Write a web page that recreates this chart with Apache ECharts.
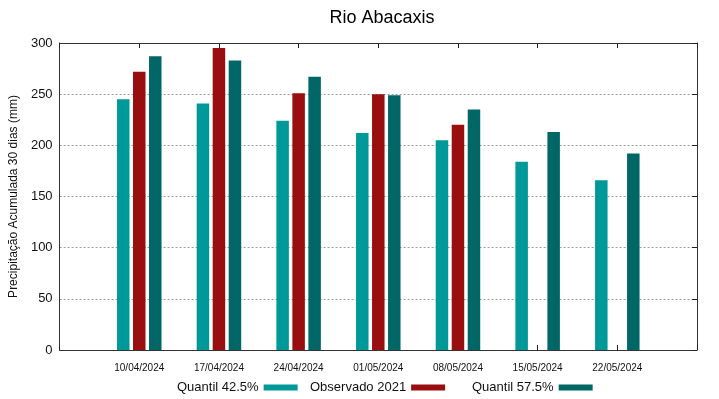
<!DOCTYPE html>
<html>
<head>
<meta charset="utf-8">
<script src="https://cdn.jsdelivr.net/npm/echarts@6/dist/echarts.min.js"></script>
<style>
  html, body { margin: 0; padding: 0; background: #fff; }
  #chart { width: 719px; height: 399px; }
</style>
</head>
<body>
<div id="chart"></div>
<script>
// datas (as pontas vazias deixam meio passo de folga nos lados)
const dates = ['', '10/04/2024', '17/04/2024', '24/04/2024', '01/05/2024', '08/05/2024', '15/05/2024', '22/05/2024', '']
const quantil425 = [null, 245, 241, 224, 212, 205, 184, 166, null]
const observado2021 = [null, 272, 295, 251, 250, 220, null, null, null]
const quantil575 = [null, 287, 283, 267, 249, 235, 213, 192, null]
const yTicks = [0, 50, 100, 150, 200, 250, 300]

const chart = echarts.init(document.getElementById('chart'))
const font = 'Liberation Sans, Arial, sans-serif'
const boxLine = { show: true, onZero: false, lineStyle: { color: '#333', width: 1 } }
const innerTick = { show: true, inside: true, length: 5, interval: 0, lineStyle: { color: '#222', width: 1 } }

// uma legenda por série, para acertar as posições
const legendItem = (name, left) => ({
  bottom: 5,
  left: left,
  padding: 0,
  align: 'right',
  icon: 'rect',
  itemWidth: 34,
  itemHeight: 6,
  textStyle: { fontFamily: font, fontSize: 13, color: '#111' },
  data: [name]
})

const option = {
  animation: false,
  title: {
    text: 'Rio Abacaxis',
    left: 377,
    textAlign: 'center',
    top: 4,
    textStyle: { fontFamily: font, fontSize: 18, fontWeight: 'normal', color: '#000' }
  },
  legend: [
    legendItem('Quantil 42.5%', 177),
    legendItem('Observado 2021', 310),
    legendItem('Quantil 57.5%', 472)
  ],
  grid: { left: 58, right: 22, top: 43, bottom: 49 },
  xAxis: [
    {
      type: 'category',
      data: dates,
      boundaryGap: false,
      axisLine: boxLine,
      axisTick: innerTick,
      axisLabel: { interval: 0, fontFamily: font, fontSize: 10, color: '#111', margin: 13 },
      splitLine: { show: false }
    },
    {
      type: 'category',
      data: dates,
      boundaryGap: false,
      position: 'top',
      axisLine: boxLine,
      axisTick: innerTick,
      axisLabel: { show: false },
      splitLine: { show: false }
    }
  ],
  yAxis: [
    {
      type: 'value',
      min: yTicks[0],
      max: yTicks[yTicks.length - 1],
      interval: 50,
      name: 'Precipitação Acumulada 30 dias (mm)',
      nameLocation: 'middle',
      nameGap: 37,
      nameTextStyle: { fontFamily: font, fontSize: 12, color: '#111' },
      axisLine: boxLine,
      axisTick: { show: false },
      axisLabel: { fontFamily: font, fontSize: 13, color: '#111', margin: 7 },
      splitLine: { show: true, lineStyle: { color: '#999', type: [2, 2], width: 1 } }
    },
    {
      type: 'value',
      min: yTicks[0],
      max: yTicks[yTicks.length - 1],
      interval: 50,
      position: 'right',
      axisLine: boxLine,
      axisTick: { show: true, inside: true, length: 5, lineStyle: { color: '#222' } },
      axisLabel: { show: false },
      splitLine: { show: false }
    }
  ],
  series: [
    {
      name: 'Quantil 42.5%',
      type: 'bar',
      data: quantil425,
      barWidth: 12.5,
      barGap: '28%',
      itemStyle: { color: '#009999' }
    },
    {
      name: 'Observado 2021',
      type: 'bar',
      data: observado2021,
      barWidth: 12.5,
      barGap: '28%',
      itemStyle: { color: '#990e0e' }
    },
    {
      name: 'Quantil 57.5%',
      type: 'bar',
      data: quantil575,
      barWidth: 12.5,
      barGap: '28%',
      itemStyle: { color: '#006666' }
    }
  ]
}

chart.setOption(option)
</script>
</body>
</html>
